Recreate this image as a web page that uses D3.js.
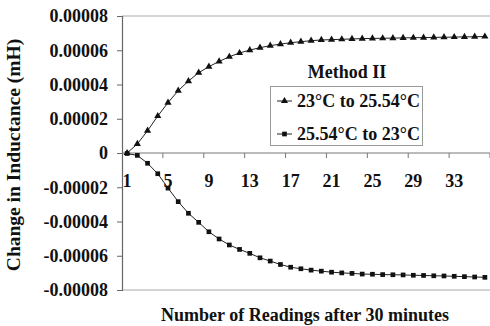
<!DOCTYPE html>
<html>
<head>
<meta charset="utf-8">
<script src="https://cdn.jsdelivr.net/npm/d3@7"></script>
<style>
	body { margin: 0; background: #fff; }
	svg { display: block; }
	svg text { font-family: "Liberation Serif", "Times New Roman", Times, Tinos, serif; font-weight: bold; fill: #111; }
</style>
</head>
<body>
<div id="container"></div>
<script>
// Chart dimensions
const width = 490;
const height = 326;
const marginTop = 16;
const marginRight = 0;
const marginBottom = 36;
const marginLeft = 122;

// Data
const readings = d3.range(1, 37);
const heating = [0, 0.0000053, 0.000013, 0.0000216, 0.0000294, 0.0000364, 0.000042, 0.0000469, 0.0000504, 0.0000535,
	0.0000562, 0.0000584, 0.0000601, 0.0000615, 0.0000627, 0.0000636, 0.0000644, 0.000065, 0.0000656, 0.000066,
	0.0000662, 0.0000664, 0.0000666, 0.0000668, 0.0000669, 0.000067, 0.0000671, 0.0000672, 0.0000673, 0.0000674,
	0.0000675, 0.0000676, 0.0000677, 0.0000678, 0.0000679, 0.000068];
const cooling = [-0.0000003, -0.0000014, -0.000006, -0.0000121, -0.0000205, -0.0000284, -0.0000352, -0.0000405, -0.000046, -0.0000502,
	-0.0000537, -0.0000563, -0.0000586, -0.0000612, -0.0000631, -0.0000651, -0.0000667, -0.0000676, -0.0000684, -0.000069,
	-0.0000696, -0.00007, -0.0000703, -0.0000707, -0.0000708, -0.000071, -0.0000711, -0.0000712, -0.0000714, -0.0000715,
	-0.0000717, -0.0000718, -0.000072, -0.0000722, -0.0000724, -0.0000726];
const seriesNames = ["23°C to 25.54°C", "25.54°C to 23°C"];
const yTicks = [0.00008, 0.00006, 0.00004, 0.00002, 0, -0.00002, -0.00004, -0.00006, -0.00008];
const xLabels = [1, 5, 9, 13, 17, 21, 25, 29, 33];

// Scales
const x = d3.scaleBand()
	.domain(readings)
	.range([marginLeft, width - marginRight]);
const cx = d => x(d) + x.bandwidth()/2;

const y = d3.scaleLinear()
	.domain([-0.00008, 0.00008])
	.range([height - marginBottom, marginTop]);

const svg = d3.select("#container").append("svg")
	.attr("width", width)
	.attr("height", height);

// Plot area border (top and bottom gray)
[0.00008, -0.00008].forEach(v => {
	svg.append("line")
		.attr("x1", marginLeft).attr("x2", width)
		.attr("y1", y(v)).attr("y2", y(v))
		.attr("stroke", "#aaa").attr("stroke-width", 1.2);
});

// Y axis
const yAxis = svg.append("g")
	.attr("transform", `translate(${marginLeft},0)`)
	.call(d3.axisLeft(y).tickValues(yTicks).tickSize(5).tickPadding(9)
		.tickFormat(d => d === 0 ? "0" : d.toFixed(5)));
yAxis.attr("font-family", null).attr("font-size", null);
yAxis.select(".domain").attr("stroke", "#666").attr("stroke-width", 1.2);
yAxis.selectAll(".tick line").attr("stroke", "#666");
yAxis.selectAll("text")
	.attr("fill", null)
	.style("font-size", "18px");

// X axis at zero
const zeroY = y(0);
svg.append("line")
	.attr("x1", marginLeft).attr("x2", width)
	.attr("y1", zeroY).attr("y2", zeroY)
	.attr("stroke", "#777").attr("stroke-width", 1);
const xTickIdx = readings.filter(d => d % 4 === 0);
svg.selectAll(".xtick")
	.data(xTickIdx)
	.join("line")
		.attr("class", "xtick")
		.attr("x1", d => x(d) + x.bandwidth()).attr("x2", d => x(d) + x.bandwidth())
		.attr("y1", zeroY).attr("y2", zeroY + 5)
		.attr("stroke", "#777");
svg.selectAll(".xlabel")
	.data(xLabels)
	.join("text")
		.attr("class", "xlabel")
		.attr("x", d => cx(d))
		.attr("y", zeroY + 34)
		.attr("text-anchor", "middle")
		.style("font-size", "18px")
		.text(d => d);

// Lines and markers
const line = d3.line()
	.x((d, i) => cx(readings[i]))
	.y(d => y(d));

[heating, cooling].forEach(s => {
	svg.append("path")
		.attr("d", line(s))
		.attr("fill", "none")
		.attr("stroke", "#222")
		.attr("stroke-width", 1);
});

const tri = d3.symbol().type(d3.symbolTriangle).size(22);
const sq = d3.symbol().type(d3.symbolSquare).size(22);

svg.selectAll(".tri")
	.data(heating)
	.join("path")
		.attr("class", "tri")
		.attr("transform", (d, i) => `translate(${cx(readings[i])},${y(d)})`)
		.attr("d", tri)
		.attr("fill", "#111");
svg.selectAll(".sq")
	.data(cooling)
	.join("path")
		.attr("class", "sq")
		.attr("transform", (d, i) => `translate(${cx(readings[i])},${y(d)})`)
		.attr("d", sq)
		.attr("fill", "#111");

// Legend
svg.append("text")
	.attr("x", 347).attr("y", 78)
	.attr("text-anchor", "middle")
	.style("font-size", "18px")
	.text("Method II");
svg.append("rect")
	.attr("x", 270.5).attr("y", 86.5)
	.attr("width", 152).attr("height", 59)
	.attr("fill", "#fff")
	.attr("stroke", "#999");
const legendY = [101, 134];
seriesNames.forEach((name, i) => {
	svg.append("line")
		.attr("x1", 277).attr("x2", 292)
		.attr("y1", legendY[i]).attr("y2", legendY[i])
		.attr("stroke", "#222");
	svg.append("path")
		.attr("transform", `translate(284.5,${legendY[i]})`)
		.attr("d", i === 0 ? tri : sq)
		.attr("fill", "#111");
	svg.append("text")
		.attr("x", 297).attr("y", legendY[i] + 6)
		.style("font-size", "18px")
		.text(name);
});

// Axis titles
svg.append("text")
	.attr("transform", `translate(20,155) rotate(-90)`)
	.attr("text-anchor", "middle")
	.style("font-size", "19.5px")
	.text("Change in Inductance (mH)");
svg.append("text")
	.attr("x", 305).attr("y", 321)
	.attr("text-anchor", "middle")
	.style("font-size", "18px")
	.text("Number of Readings after 30 minutes");
</script>
</body>
</html>
